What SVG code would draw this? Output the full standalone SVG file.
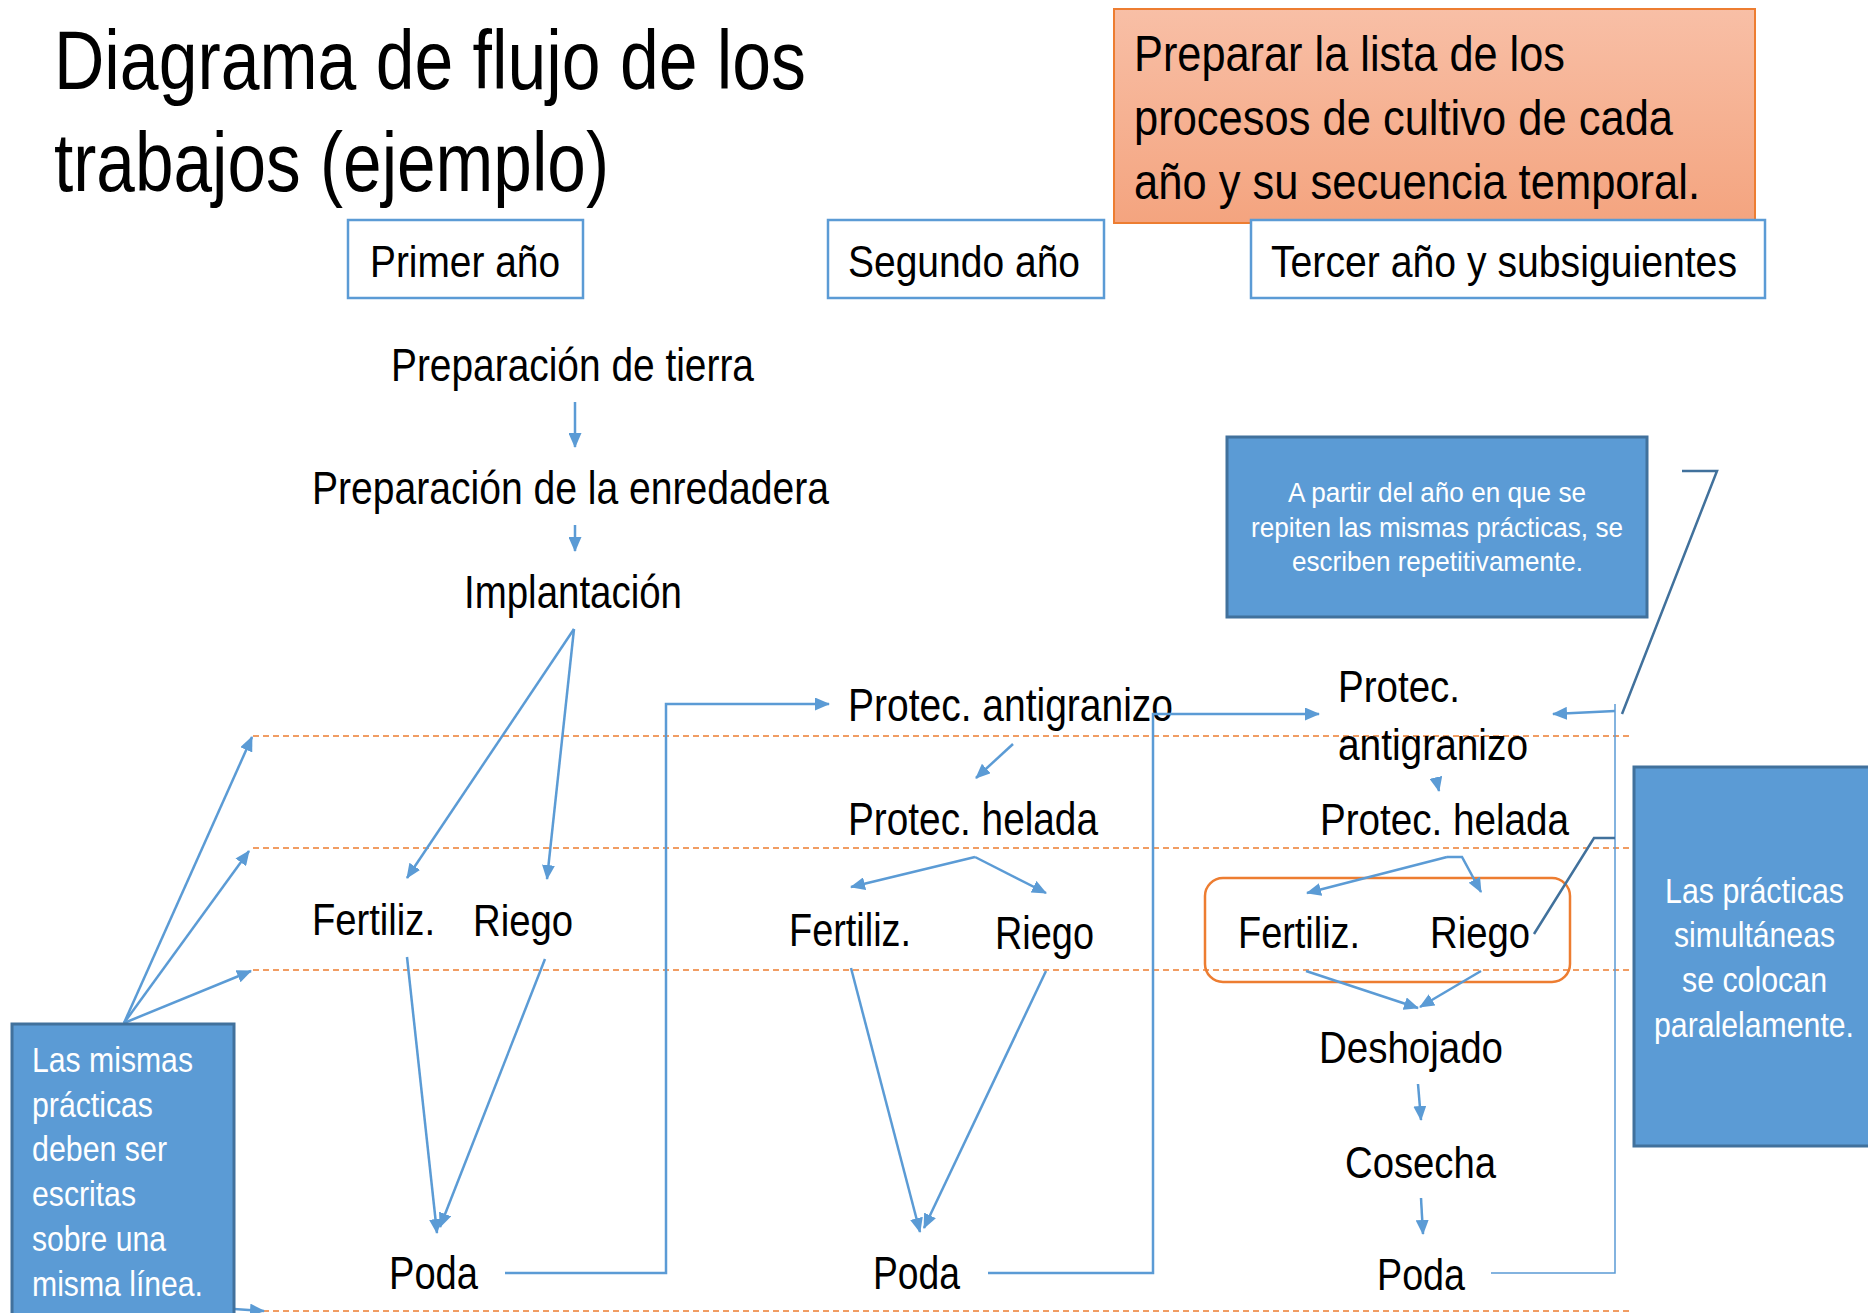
<svg xmlns="http://www.w3.org/2000/svg" width="1868" height="1313" viewBox="0 0 1868 1313">
<defs>
<marker id="ah" markerUnits="userSpaceOnUse" markerWidth="15" markerHeight="13" refX="14" refY="6.5" orient="auto"><path d="M0,0 L15,6.5 L0,13 z" fill="#5B9BD5"/></marker>
<linearGradient id="og" x1="0" y1="0" x2="0" y2="1"><stop offset="0" stop-color="#F8BFA6"/><stop offset="1" stop-color="#F4A47F"/></linearGradient>
<style>
.n{font-family:"Liberation Sans Narrow","Liberation Sans",Arial,sans-serif;fill:#000}
.r{font-family:"Liberation Sans",Arial,sans-serif;fill:#000}
.w{fill:#fff}
.hb{fill:#fff;stroke:#5B9BD5;stroke-width:2.5}
.bb{fill:#5B9BD5;stroke:#41719C;stroke-width:3}
.dash{stroke:#ED7D31;stroke-width:1.5;stroke-dasharray:6 4;fill:none}
.c{stroke:#5B9BD5;stroke-width:2.5;fill:none}
.cf{stroke:#5B9BD5;stroke-width:1.5;fill:none}
.co{stroke:#41719C;stroke-width:2.5;fill:none}
</style>
</defs>
<rect width="1868" height="1313" fill="#fff"/>
<g id="guides">
<line class="dash" x1="253" y1="736" x2="1633" y2="736"/>
<line class="dash" x1="253" y1="848" x2="1633" y2="848"/>
<line class="dash" x1="253" y1="970" x2="1633" y2="970"/>
<line class="dash" x1="263" y1="1311" x2="1633" y2="1311"/>
</g>
<g id="title">
<text class="n" x="54" y="89" font-size="84" textLength="752" lengthAdjust="spacingAndGlyphs">Diagrama de flujo de los</text>
<text class="n" x="54" y="191" font-size="84" textLength="555" lengthAdjust="spacingAndGlyphs">trabajos (ejemplo)</text>
</g>
<g id="note-top">
<rect x="1114" y="9" width="641" height="214" fill="url(#og)" stroke="#ED7D31" stroke-width="2"/>
<text class="n" x="1134" y="71" font-size="50" textLength="431" lengthAdjust="spacingAndGlyphs">Preparar la lista de los</text>
<text class="n" x="1134" y="135" font-size="50" textLength="539" lengthAdjust="spacingAndGlyphs">procesos de cultivo de cada</text>
<text class="n" x="1134" y="199" font-size="50" textLength="566" lengthAdjust="spacingAndGlyphs">año y su secuencia temporal.</text>
</g>
<g id="hdr-1"><rect class="hb" x="348" y="220" width="235" height="78"/><text class="n" x="370" y="277" font-size="45" textLength="190" lengthAdjust="spacingAndGlyphs">Primer año</text></g>
<g id="hdr-2"><rect class="hb" x="828" y="220" width="276" height="78"/><text class="n" x="848" y="277" font-size="45" textLength="232" lengthAdjust="spacingAndGlyphs">Segundo año</text></g>
<g id="hdr-3"><rect class="hb" x="1251" y="220" width="514" height="78"/><text class="n" x="1271" y="277" font-size="45" textLength="466" lengthAdjust="spacingAndGlyphs">Tercer año y subsiguientes</text></g>

<g id="y1-tierra"><text class="n" x="391" y="381" font-size="46" textLength="363" lengthAdjust="spacingAndGlyphs">Preparación de tierra</text></g>
<g id="y1-enredadera"><text class="n" x="312" y="504" font-size="46" textLength="517" lengthAdjust="spacingAndGlyphs">Preparación de la enredadera</text></g>
<g id="y1-implantacion"><text class="n" x="464" y="608" font-size="46" textLength="218" lengthAdjust="spacingAndGlyphs">Implantación</text></g>
<g id="y1-fertiliz"><text class="r" x="312" y="935" font-size="45" textLength="123" lengthAdjust="spacingAndGlyphs">Fertiliz.</text></g>
<g id="y1-riego"><text class="r" x="473" y="936" font-size="45" textLength="100" lengthAdjust="spacingAndGlyphs">Riego</text></g>
<g id="y1-poda"><text class="r" x="389" y="1289" font-size="46" textLength="89" lengthAdjust="spacingAndGlyphs">Poda</text></g>

<g id="y2-antigranizo"><text class="r" x="848" y="721" font-size="46" textLength="325" lengthAdjust="spacingAndGlyphs">Protec. antigranizo</text></g>
<g id="y2-helada"><text class="r" x="848" y="835" font-size="46" textLength="250" lengthAdjust="spacingAndGlyphs">Protec. helada</text></g>
<g id="y2-fertiliz"><text class="r" x="789" y="946" font-size="46" textLength="122" lengthAdjust="spacingAndGlyphs">Fertiliz.</text></g>
<g id="y2-riego"><text class="r" x="995" y="949" font-size="46" textLength="99" lengthAdjust="spacingAndGlyphs">Riego</text></g>
<g id="y2-poda"><text class="r" x="873" y="1289" font-size="46" textLength="87" lengthAdjust="spacingAndGlyphs">Poda</text></g>

<g id="y3-antigranizo"><text class="n" x="1338" y="702" font-size="45" textLength="122" lengthAdjust="spacingAndGlyphs">Protec.</text><text class="n" x="1338" y="760" font-size="45" textLength="190" lengthAdjust="spacingAndGlyphs">antigranizo</text></g>
<g id="y3-helada"><text class="n" x="1320" y="835" font-size="45" textLength="249" lengthAdjust="spacingAndGlyphs">Protec. helada</text></g>
<g id="y3-simultaneas"><rect x="1205" y="878" width="365" height="104" rx="18" fill="none" stroke="#ED7D31" stroke-width="2.5"/>
<text class="n" x="1238" y="948" font-size="45" textLength="122" lengthAdjust="spacingAndGlyphs">Fertiliz.</text>
<text class="n" x="1430" y="948" font-size="45" textLength="100" lengthAdjust="spacingAndGlyphs">Riego</text></g>
<g id="y3-deshojado"><text class="n" x="1319" y="1063" font-size="45" textLength="184" lengthAdjust="spacingAndGlyphs">Deshojado</text></g>
<g id="y3-cosecha"><text class="n" x="1345" y="1178" font-size="45" textLength="151" lengthAdjust="spacingAndGlyphs">Cosecha</text></g>
<g id="y3-poda"><text class="n" x="1377" y="1290" font-size="45" textLength="88" lengthAdjust="spacingAndGlyphs">Poda</text></g>

<g id="connectors">
<line class="c" x1="575" y1="402" x2="575" y2="447" marker-end="url(#ah)"/>
<line class="c" x1="575" y1="525" x2="575" y2="551" marker-end="url(#ah)"/>
<line class="c" x1="574" y1="629" x2="407" y2="878" marker-end="url(#ah)"/>
<line class="c" x1="574" y1="629" x2="547" y2="879" marker-end="url(#ah)"/>
<line class="c" x1="407" y1="957" x2="437" y2="1233" marker-end="url(#ah)"/>
<line class="c" x1="545" y1="959" x2="440" y2="1227" marker-end="url(#ah)"/>
<polyline class="c" points="505,1273 666,1273 666,704 829,704" marker-end="url(#ah)"/>
<line class="c" x1="1013" y1="744" x2="976" y2="778" marker-end="url(#ah)"/>
<line class="c" x1="975" y1="857" x2="851" y2="887" marker-end="url(#ah)"/>
<line class="c" x1="975" y1="857" x2="1046" y2="893" marker-end="url(#ah)"/>
<line class="c" x1="851" y1="968" x2="920" y2="1232" marker-end="url(#ah)"/>
<line class="c" x1="1046" y1="971" x2="924" y2="1228" marker-end="url(#ah)"/>
<polyline class="c" points="988,1273 1153,1273 1153,714 1319,714" marker-end="url(#ah)"/>
<line class="c" x1="1436" y1="778" x2="1439" y2="791" marker-end="url(#ah)"/>
<line class="c" x1="1447" y1="857" x2="1307" y2="893" marker-end="url(#ah)"/>
<polyline class="c" points="1447,857 1462,857 1481,892" marker-end="url(#ah)"/>
<line class="c" x1="1306" y1="971" x2="1418" y2="1008" marker-end="url(#ah)"/>
<line class="c" x1="1481" y1="971" x2="1420" y2="1007" marker-end="url(#ah)"/>
<line class="c" x1="1418" y1="1084" x2="1421" y2="1120" marker-end="url(#ah)"/>
<line class="c" x1="1421" y1="1198" x2="1423" y2="1234" marker-end="url(#ah)"/>
<polyline class="cf" points="1491,1273 1615,1273 1615,704"/>
<line class="c" x1="1615" y1="711" x2="1553" y2="714" marker-end="url(#ah)"/>
<line class="c" x1="124" y1="1023" x2="252" y2="737" marker-end="url(#ah)"/>
<line class="c" x1="124" y1="1023" x2="249" y2="851" marker-end="url(#ah)"/>
<line class="c" x1="124" y1="1023" x2="251" y2="971" marker-end="url(#ah)"/>
<line class="c" x1="234" y1="1309" x2="264" y2="1311" marker-end="url(#ah)"/>
<polyline class="co" points="1682,471 1717,471 1622,714"/>
<polyline class="co" points="1534,934 1594,838 1615,838"/>
</g>

<g id="note-repeat">
<rect class="bb" x="1227" y="437" width="420" height="180"/>
<text class="n w" x="1288" y="502" font-size="28" textLength="298" lengthAdjust="spacingAndGlyphs">A partir del año en que se</text>
<text class="n w" x="1251" y="537" font-size="28" textLength="372" lengthAdjust="spacingAndGlyphs">repiten las mismas prácticas, se</text>
<text class="n w" x="1292" y="571" font-size="28" textLength="291" lengthAdjust="spacingAndGlyphs">escriben repetitivamente.</text>
</g>
<g id="note-parallel">
<rect class="bb" x="1634" y="767" width="245" height="379"/>
<text class="n w" x="1665" y="903" font-size="35" textLength="179" lengthAdjust="spacingAndGlyphs">Las prácticas</text>
<text class="n w" x="1674" y="947" font-size="35" textLength="161" lengthAdjust="spacingAndGlyphs">simultáneas</text>
<text class="n w" x="1682" y="992" font-size="35" textLength="145" lengthAdjust="spacingAndGlyphs">se colocan</text>
<text class="n w" x="1654" y="1037" font-size="35" textLength="200" lengthAdjust="spacingAndGlyphs">paralelamente.</text>
</g>
<g id="note-sameline">
<rect class="bb" x="12" y="1024" width="222" height="300"/>
<text class="r w" x="32" y="1072" font-size="35" textLength="161" lengthAdjust="spacingAndGlyphs">Las mismas</text>
<text class="r w" x="32" y="1117" font-size="35" textLength="121" lengthAdjust="spacingAndGlyphs">prácticas</text>
<text class="r w" x="32" y="1161" font-size="35" textLength="135" lengthAdjust="spacingAndGlyphs">deben ser</text>
<text class="r w" x="32" y="1206" font-size="35" textLength="104" lengthAdjust="spacingAndGlyphs">escritas</text>
<text class="r w" x="32" y="1251" font-size="35" textLength="134" lengthAdjust="spacingAndGlyphs">sobre una</text>
<text class="r w" x="32" y="1296" font-size="35" textLength="171" lengthAdjust="spacingAndGlyphs">misma línea.</text>
</g>
</svg>
